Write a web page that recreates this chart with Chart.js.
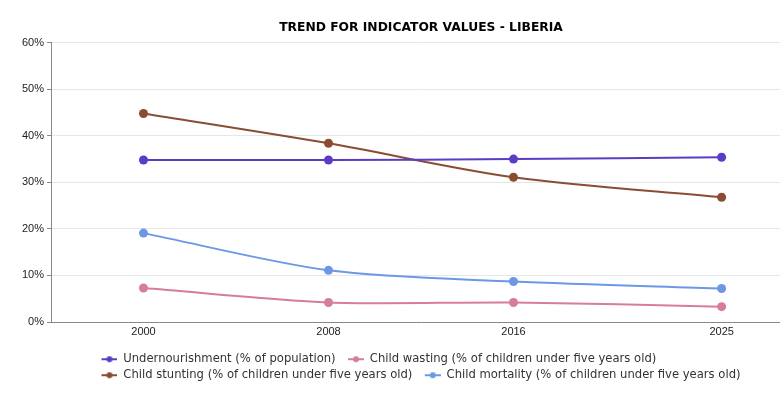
<!DOCTYPE html>
<html>
<head>
<meta charset="utf-8">
<script src="https://cdn.jsdelivr.net/npm/chart.js@4.4.1/dist/chart.umd.min.js"></script>
<style>
  html, body { margin: 0; padding: 0; background: #fff; overflow: hidden; }
  #wrap { width: 842px; height: 397px; }
</style>
</head>
<body>
<div id="wrap"><canvas id="chart" width="842" height="397"></canvas></div>
<script>
// Datos
const years = [2000, 2008, 2016, 2025];
const undernourishment = [34.8, 34.8, 35.0, 35.4];
const childWasting = [7.3, 4.2, 4.2, 3.3];
const childStunting = [44.8, 38.4, 31.1, 26.8];
const childMortality = [19.1, 11.1, 8.7, 7.2];
const yTicks = [0, 10, 20, 30, 40, 50, 60];

const seriesNames = [
  'Undernourishment (% of population)',
  'Child wasting (% of children under five years old)',
  'Child stunting (% of children under five years old)',
  'Child mortality (% of children under five years old)'
];
const seriesColors = ['#5b3cc4', '#d67d9b', '#8a4d32', '#6c98e6'];
const seriesValues = [undernourishment, childWasting, childStunting, childMortality];

const FONT = 'DejaVu Sans';
const TICK_FONT = 'Liberation Sans';
const LEAD = 8; // espacio transparente antes del simbolo

// simbolo de leyenda: linea con punto
function legendSymbol(color) {
  const c = document.createElement('canvas');
  c.width = 16 + LEAD; c.height = 8;
  const g = c.getContext('2d');
  g.strokeStyle = color;
  g.lineWidth = 2;
  g.beginPath(); g.moveTo(LEAD, 4); g.lineTo(LEAD + 16, 4); g.stroke();
  g.fillStyle = color;
  g.beginPath(); g.arc(LEAD + 8, 4, 3, 0, Math.PI * 2); g.fill();
  return c;
}
const symbols = seriesColors.map(legendSymbol);

const datasets = seriesValues.map((vals, i) => ({
  label: seriesNames[i],
  data: years.map((y, j) => ({ x: y, y: vals[j] })),
  borderColor: seriesColors[i],
  backgroundColor: seriesColors[i],
  borderWidth: 2,
  pointRadius: 4.5,
  pointHoverRadius: 5,
  pointBorderWidth: 0,
  tension: 0.3
}));

// leyenda alineada a la izquierda dentro de un bloque centrado
const legendBlock = {
  id: 'legendBlock',
  afterLayout(chart) {
    const lg = chart.legend;
    if (!lg || !lg.lineWidths) return;
    const pad = lg.options.labels.padding;
    const maxW = Math.max(...lg.lineWidths);
    const center = chart.width / 2;
    const w = lg.right - lg.left;
    lg.left = center - (maxW - pad - LEAD) / 2 - pad - LEAD;
    lg.right = lg.left + w;
  }
};

new Chart(document.getElementById('chart'), {
  type: 'line',
  data: { datasets },
  plugins: [legendBlock],
  options: {
    responsive: false,
    animation: false,
    layout: { padding: { left: 0, right: 0, top: 0, bottom: 6 } },
    scales: {
      x: {
        type: 'linear',
        min: 1996,
        max: 2028,
        afterBuildTicks: s => { s.ticks = years.map(v => ({ value: v })); },
        afterFit: s => { s.height = 27; },
        ticks: {
          color: '#222',
          font: { family: TICK_FONT, size: 11 },
          padding: 3,
          callback: v => String(v)
        },
        grid: { display: false, drawTicks: false },
        border: { display: true, color: '#888', width: 1 }
      },
      y: {
        min: 0,
        max: 60,
        afterBuildTicks: s => { s.ticks = yTicks.map(v => ({ value: v })); },
        afterFit: s => { s.width = 51; },
        ticks: {
          color: '#222',
          font: { family: TICK_FONT, size: 11 },
          padding: 3,
          callback: v => v + '%'
        },
        grid: { color: '#e6e6e6', tickColor: '#888', tickLength: 4 },
        border: { display: true, color: '#888', width: 1 }
      },
      // eje vacio a la derecha para dejar el margen
      yRight: {
        position: 'right',
        min: 0,
        max: 60,
        afterFit: s => { s.width = 51; },
        ticks: { display: false },
        grid: { display: false },
        border: { display: false }
      }
    },
    plugins: {
      title: {
        display: true,
        text: 'TREND FOR INDICATOR VALUES - LIBERIA',
        color: '#000',
        font: { family: FONT, size: 12.3, weight: 'bold' },
        padding: { top: 20, bottom: 8 }
      },
      legend: {
        position: 'bottom',
        align: 'start',
        labels: {
          color: '#333',
          font: { family: FONT, size: 11.6 },
          usePointStyle: true,
          pointStyleWidth: 16 + LEAD,
          boxHeight: 8,
          padding: 4.4,
          generateLabels: chart => {
            const items = Chart.defaults.plugins.legend.labels.generateLabels(chart);
            items.forEach((it, i) => { it.pointStyle = symbols[i]; });
            return items;
          }
        }
      },
      tooltip: { enabled: false }
    }
  }
});
</script>
</body>
</html>
